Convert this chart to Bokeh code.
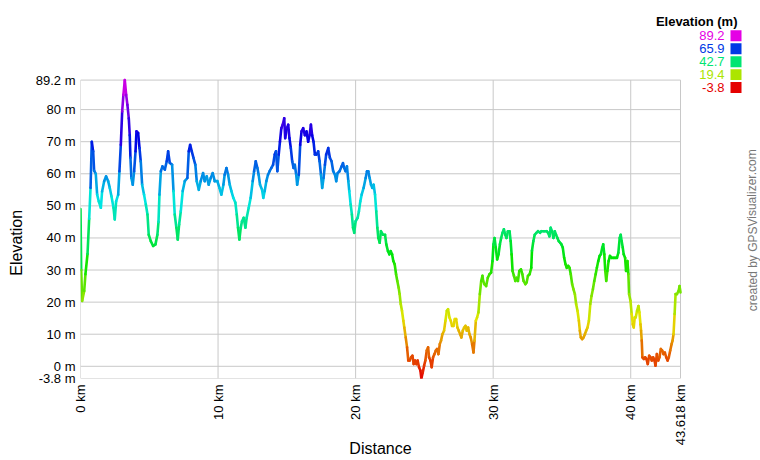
import colorsys
from bokeh.plotting import figure
from bokeh.models import Range1d, FixedTicker, CustomJSTickFormatter
from bokeh.core.properties import value
from bokeh.embed import file_html
from bokeh.resources import INLINE

# ---------------- data ----------------
distance_km = [
    0.00, 0.05, 0.12, 0.27, 0.36, 0.51, 0.63, 0.73, 0.82, 0.92, 0.99, 1.11, 1.21, 1.33, 1.48, 1.57,
    1.72, 1.86, 2.01, 2.13, 2.25, 2.40, 2.49, 2.59, 2.74, 2.83, 2.93, 3.03, 3.12, 3.22, 3.32, 3.41,
    3.51, 3.58, 3.63, 3.70, 3.80, 3.90, 4.00, 4.07, 4.19, 4.29, 4.38, 4.48, 4.62, 4.75, 4.87, 4.96,
    5.11, 5.28, 5.45, 5.59, 5.67, 5.74, 5.84, 5.96, 6.13, 6.27, 6.37, 6.49, 6.66, 6.76, 6.85, 6.97,
    7.07, 7.17, 7.29, 7.43, 7.58, 7.77, 7.87, 7.97, 8.09, 8.21, 8.35, 8.45, 8.60, 8.74, 8.91, 9.03,
    9.18, 9.32, 9.47, 9.61, 9.76, 9.95, 10.10, 10.24, 10.39, 10.48, 10.61, 10.73, 10.85, 10.97, 11.11,
    11.26, 11.36, 11.45, 11.55, 11.65, 11.74, 11.86, 11.99, 12.08, 12.23, 12.37, 12.52, 12.62, 12.74,
    12.86, 12.95, 13.05, 13.20, 13.29, 13.39, 13.51, 13.63, 13.75, 13.87, 14.00, 14.12, 14.21, 14.31,
    14.41, 14.50, 14.60, 14.70,
    14.81, 14.88, 15.00, 15.10, 15.19, 15.29, 15.39, 15.49, 15.58, 15.68, 15.75, 15.87, 15.97, 16.07,
    16.19, 16.31, 16.43, 16.55, 16.65, 16.75, 16.84, 16.94, 17.04, 17.16, 17.28, 17.38, 17.48, 17.57,
    17.67, 17.77, 17.86, 18.01, 18.13, 18.25, 18.37, 18.50, 18.59, 18.69, 18.83, 18.98, 19.08, 19.17,
    19.27, 19.37, 19.47, 19.54, 19.64, 19.73, 19.81, 19.90, 20.00, 20.15, 20.24, 20.34, 20.44, 20.58,
    20.73, 20.83, 20.92, 21.02, 21.12, 21.21, 21.31, 21.41, 21.50, 21.58, 21.65, 21.75, 21.84, 21.99,
    22.14, 22.23, 22.35, 22.45, 22.55, 22.65, 22.74, 22.84, 22.94, 23.03, 23.13, 23.20, 23.28, 23.37,
    23.47, 23.54, 23.64, 23.74, 23.83, 23.93, 24.03, 24.13, 24.22, 24.32, 24.42, 24.51, 24.61, 24.71,
    24.78, 24.88, 24.98, 25.07, 25.17, 25.27, 25.34, 25.44, 25.53, 25.63, 25.73, 25.83, 25.92, 26.02,
    26.12, 26.21, 26.31, 26.43, 26.53, 26.63, 26.72, 26.82, 26.92, 27.01, 27.11, 27.21, 27.31, 27.40,
    27.50, 27.60, 27.69, 27.79, 27.89, 27.99, 28.08, 28.18, 28.28, 28.37, 28.47, 28.57, 28.64, 28.74,
    28.83, 28.93, 29.03, 29.13, 29.22,
    29.27, 29.37, 29.49, 29.61, 29.73, 29.85, 29.95, 30.02, 30.10, 30.19, 30.29, 30.39, 30.49, 30.58,
    30.68, 30.78, 30.88, 30.97, 31.07, 31.19, 31.27, 31.34, 31.41, 31.51, 31.61, 31.70, 31.80, 31.90,
    32.02, 32.12, 32.21, 32.34, 32.43, 32.53, 32.65, 32.77, 32.82, 32.92, 33.02, 33.14, 33.26, 33.41,
    33.50, 33.65, 33.75, 33.89, 33.99, 34.09, 34.18, 34.28, 34.38, 34.48, 34.57, 34.67, 34.77, 34.87,
    34.96, 35.06, 35.16, 35.26, 35.35, 35.45, 35.55, 35.64, 35.74, 35.84, 35.94, 36.03, 36.13, 36.23,
    36.30, 36.37, 36.47, 36.57, 36.67, 36.76, 36.86, 36.96, 37.06, 37.15, 37.25, 37.35, 37.45, 37.54,
    37.64, 37.74, 37.83, 37.93, 38.00, 38.08, 38.15, 38.22, 38.30, 38.39, 38.49, 38.61, 38.73, 38.86,
    39.00, 39.10, 39.20, 39.27, 39.34, 39.42, 39.49, 39.59, 39.66, 39.76, 39.83, 39.88, 39.98, 40.07,
    40.15, 40.22, 40.29, 40.36, 40.46, 40.56, 40.63, 40.71, 40.75, 40.80, 40.85, 40.95, 41.05, 41.14,
    41.24, 41.34, 41.44, 41.53, 41.63, 41.73, 41.80, 41.90, 42.00, 42.09, 42.19, 42.29, 42.38, 42.48,
    42.58, 42.68, 42.77, 42.87, 42.97, 43.04, 43.11, 43.19, 43.26, 43.36, 43.48, 43.55, 43.618,
]

elevation_m = [
    49.0, 30.0, 20.4, 23.5, 28.7, 35.0, 46.0, 55.6, 70.0, 67.0, 61.0, 60.0, 53.5, 51.4, 49.4, 54.5,
    57.7, 59.2, 57.7, 55.6, 53.0, 49.4, 45.8, 51.4, 53.5, 60.8, 69.0, 79.4, 84.6, 89.2, 84.6, 81.5,
    77.3, 72.0, 65.0, 58.7, 56.6, 60.8, 67.0, 73.2, 72.7, 68.0, 63.9, 56.6, 53.5, 50.4, 47.3, 41.0,
    39.0, 37.5, 38.0, 41.0, 45.0, 53.5, 60.8, 62.3, 61.3, 63.9, 67.0, 63.4, 62.8, 54.6, 47.3, 43.2,
    39.5, 44.2, 48.3, 54.6, 57.7, 58.7, 67.0, 69.0, 67.0, 65.0, 62.8, 57.7, 55.0, 57.7, 60.2, 57.7,
    59.2, 56.6, 58.7, 60.2, 57.7, 57.7, 55.6, 53.5, 56.6, 59.7, 61.8, 59.7, 56.6, 54.6, 52.5,
    51.0, 47.3, 43.2, 39.5, 43.2, 45.2, 46.3, 43.2, 46.3, 49.4, 52.5, 57.7, 60.8, 63.9,
    61.8, 59.7, 56.6, 55.0, 52.5, 54.6, 57.7, 59.7, 60.8, 61.8, 62.8, 66.0, 67.0, 60.8,
    66.0, 70.0, 74.2, 75.3,
    77.3, 71.1, 74.2, 75.3, 71.1, 68.0, 63.9, 61.8, 62.8, 59.7, 56.6, 59.7, 69.0, 73.2,
    74.2, 72.0, 73.2, 70.0, 72.0, 75.3, 72.0, 70.0, 66.0, 66.0, 67.0, 63.9, 59.7, 55.6,
    58.7, 62.8, 66.0, 68.0, 65.0, 63.9, 60.8, 59.7, 57.7, 60.2, 60.8, 62.3, 63.3, 61.8,
    60.8, 62.3, 57.7, 54.6, 50.4, 47.3, 43.2, 41.6, 45.2, 46.3, 48.3, 51.4, 53.5, 55.6,
    58.7, 60.8, 60.8, 58.7, 56.6, 55.6, 56.6, 53.5, 48.3, 43.2, 40.0, 38.5, 42.1, 41.0,
    41.0, 38.0, 35.9, 34.9, 35.9, 34.9, 32.8, 31.8, 28.7, 26.6, 24.5, 22.5, 19.4, 17.3,
    14.2, 12.1, 9.0, 5.9, 1.8, 1.8, 2.8, 3.3, 0.7, 1.8, 0.7, 1.8, -0.3, -1.3,
    -3.8, -1.9, 0.2, 1.8, 4.9, 5.9, 2.8, 1.8, -0.3, 2.8, 3.8, 4.9, 5.4, 3.8,
    6.9, 8.0, 10.0, 11.1, 14.2, 17.3, 17.8, 15.2, 14.2, 12.6, 12.6, 14.7, 14.7, 12.1,
    11.1, 10.0, 9.0, 11.1, 12.1, 12.6, 11.1, 12.1, 10.0, 9.0, 6.9, 4.3, 8.0, 14.2,
    15.2, 16.8, 22.5, 26.6, 28.2,
    26.6, 25.6, 25.0, 27.6, 28.7, 29.2, 32.8, 38.0, 40.0, 37.0, 33.3, 34.9, 38.0, 40.0,
    41.6, 42.7, 41.0, 40.0, 42.1, 42.1, 39.0, 34.9, 29.7, 28.2, 26.6, 27.6, 26.6, 29.7,
    30.2, 28.7, 26.6, 25.6, 26.1, 28.2, 28.7, 30.7, 36.0, 39.0, 41.0, 41.6, 42.1, 41.6,
    42.1, 42.1, 42.1, 42.1, 41.6, 40.5, 43.2, 42.1, 40.0, 42.1, 41.0, 40.0, 39.0, 38.5,
    38.0, 37.0, 33.8, 31.8, 30.7, 31.3, 30.7, 28.7, 25.6, 24.0, 22.5, 19.4, 17.3, 14.2,
    11.1, 9.0, 8.5, 9.0, 10.0, 11.1, 12.1, 14.2, 19.4, 21.9, 24.0, 26.6, 28.7, 30.7,
    32.8, 34.4, 34.9, 37.0, 38.0, 34.9, 29.7, 26.6, 29.7, 32.8, 34.4, 33.8, 33.8, 33.8,
    33.8, 35.4, 40.0, 41.0, 39.0, 37.0, 34.9, 33.8, 29.7, 32.8, 28.7, 22.5, 20.4, 16.3,
    13.1, 12.1, 15.2, 15.2, 17.3, 18.8, 16.8, 13.1, 11.1, 8.0, 2.8, 2.3, 2.8, 2.3,
    0.7, 3.3, 2.8, 1.8, 2.8, 1.8, 0.2, 3.8, 1.8, 2.8, 5.4, 4.9, 3.8, 4.3,
    2.8, 1.8, 2.8, 4.9, 6.9, 8.0, 10.0, 16.3, 22.5, 22.5, 23.5, 25.0, 23.0,
]

y_ticks = [-3.8, 0, 10, 20, 30, 40, 50, 60, 70, 80, 89.2]
x_ticks = [0, 10, 20, 30, 40, 43.618]
legend_values = [89.2, 65.9, 42.7, 19.4, -3.8]
legend_title = "Elevation (m)"
credit = "created by GPSVisualizer.com"
x_title = "Distance"
y_title = "Elevation"

FONT = "Liberation Sans"
e_min, e_max = min(elevation_m), max(elevation_m)
d_min, d_max = min(distance_km), max(distance_km)


def elev_color(e):
    t = (e - e_min) / (e_max - e_min)
    t = min(max(t, 0.0), 1.0)
    r, g, b = colorsys.hsv_to_rgb(t * 300.0 / 360.0, 1.0, 0.9)
    return "#%02x%02x%02x" % (int(r * 255), int(g * 255), int(b * 255))


# ---------------- layout (pixels) ----------------
W, H = 760, 460
LEFT, BOTTOM = 80, 80            # borders holding the axes
PLOT_L, PLOT_R = 80, 680         # plot area edges in page pixels
PLOT_T, PLOT_B = 80, 380
FRAME_W, FRAME_H = W - LEFT, H - BOTTOM   # frame spans to right/top canvas edges

# data ranges stretched so the data area occupies the plot rectangle
x_end = d_min + (d_max - d_min) * FRAME_W / (PLOT_R - PLOT_L)
y_end = e_min + (e_max - e_min) * FRAME_H / (PLOT_B - PLOT_T)

p = figure(width=W, height=H, output_backend="svg", toolbar_location=None,
           x_range=Range1d(d_min, x_end), y_range=Range1d(e_min, y_end),
           min_border=0, min_border_left=LEFT, min_border_right=0,
           min_border_top=0, min_border_bottom=BOTTOM,
           background_fill_color="white", border_fill_color="white")
p.outline_line_color = None
p.xgrid.visible = False
p.ygrid.visible = False
# pixel-space ranges for the annotation texts / legend
p.extra_x_ranges = {"px": Range1d(LEFT, W)}
p.extra_y_ranges = {"px": Range1d(H - BOTTOM, 0)}

for ax in (p.xaxis[0], p.yaxis[0]):
    ax.axis_line_color = None
    ax.major_tick_line_color = None
    ax.minor_tick_line_color = None
    ax.major_tick_out = 0
    ax.major_tick_in = 0
    ax.minor_tick_out = 0
    ax.minor_tick_in = 0
    ax.major_label_text_font = FONT
    ax.major_label_text_font_size = "13px"
    ax.major_label_text_color = "#000000"
    ax.major_label_standoff = 5
    ax.axis_label_text_font = FONT
    ax.axis_label_text_font_size = "16px"
    ax.axis_label_text_font_style = "normal"
    ax.axis_label_text_color = "#000000"

# axis titles are centred on the whole frame; trailing no-break spaces shift the
# visible word so that it sits centred on the plot area as in the original
NBSP = "\u00a0"
p.yaxis[0].ticker = FixedTicker(ticks=y_ticks)
p.yaxis[0].formatter = CustomJSTickFormatter(code="return tick + ' m';")
p.yaxis[0].axis_label = y_title + NBSP * 24
p.yaxis[0].axis_label_standoff = 8

p.xaxis[0].ticker = FixedTicker(ticks=x_ticks)
p.xaxis[0].formatter = CustomJSTickFormatter(code="return tick + ' km';")
p.xaxis[0].major_label_orientation = 1.5708
p.xaxis[0].major_label_standoff = 6
p.xaxis[0].axis_label = x_title + NBSP * 18
p.xaxis[0].axis_label_standoff = -8

# grid lines (bounded to the plot area), drawn from the tick lists
GRID = "#c8c8c8"
p.segment(x0=x_ticks, y0=[e_min] * len(x_ticks), x1=x_ticks, y1=[e_max] * len(x_ticks),
          line_color=GRID, line_width=1)
p.segment(x0=[d_min] * len(y_ticks), y0=y_ticks, x1=[d_max] * len(y_ticks), y1=y_ticks,
          line_color=GRID, line_width=1)

# gradient-coloured elevation line
x0 = distance_km[:-1]
x1 = distance_km[1:]
y0 = elevation_m[:-1]
y1 = elevation_m[1:]
seg_colors = [elev_color((a + b) / 2.0) for a, b in zip(y0, y1)]
p.segment(x0=x0, y0=y0, x1=x1, y1=y1, line_color=seg_colors, line_width=2.6, line_cap="round")

# ---------------- colour legend (pixel space) ----------------
ROW0, ROW_STEP = 35.5, 13
rows_y = [ROW0 + ROW_STEP * i for i in range(len(legend_values))]
leg_colors = [elev_color(v) for v in legend_values]
leg_text = ["%.1f" % v for v in legend_values]
p.text(x=[737], y=[21], text=[legend_title], x_range_name="px", y_range_name="px",
       text_font=value(FONT), text_font_size=value("13px"), text_font_style="bold",
       text_color="#000000", text_align="right", text_baseline="middle")
p.text(x=[724] * len(rows_y), y=rows_y, text=leg_text, x_range_name="px", y_range_name="px",
       text_font=value(FONT), text_font_size=value("13px"), text_color=leg_colors,
       text_align="right", text_baseline="middle")
p.rect(x=[735.5] * len(rows_y), y=rows_y, width=11, height=11, x_range_name="px", y_range_name="px",
       fill_color=leg_colors, line_color=None)

# credit text
p.text(x=[752], y=[231], text=[credit], x_range_name="px", y_range_name="px", angle=1.5708,
       text_font=value(FONT), text_font_size=value("12px"), text_color="#777777",
       text_align="center", text_baseline="middle")

open("out.html", "w").write(file_html(p, INLINE))
